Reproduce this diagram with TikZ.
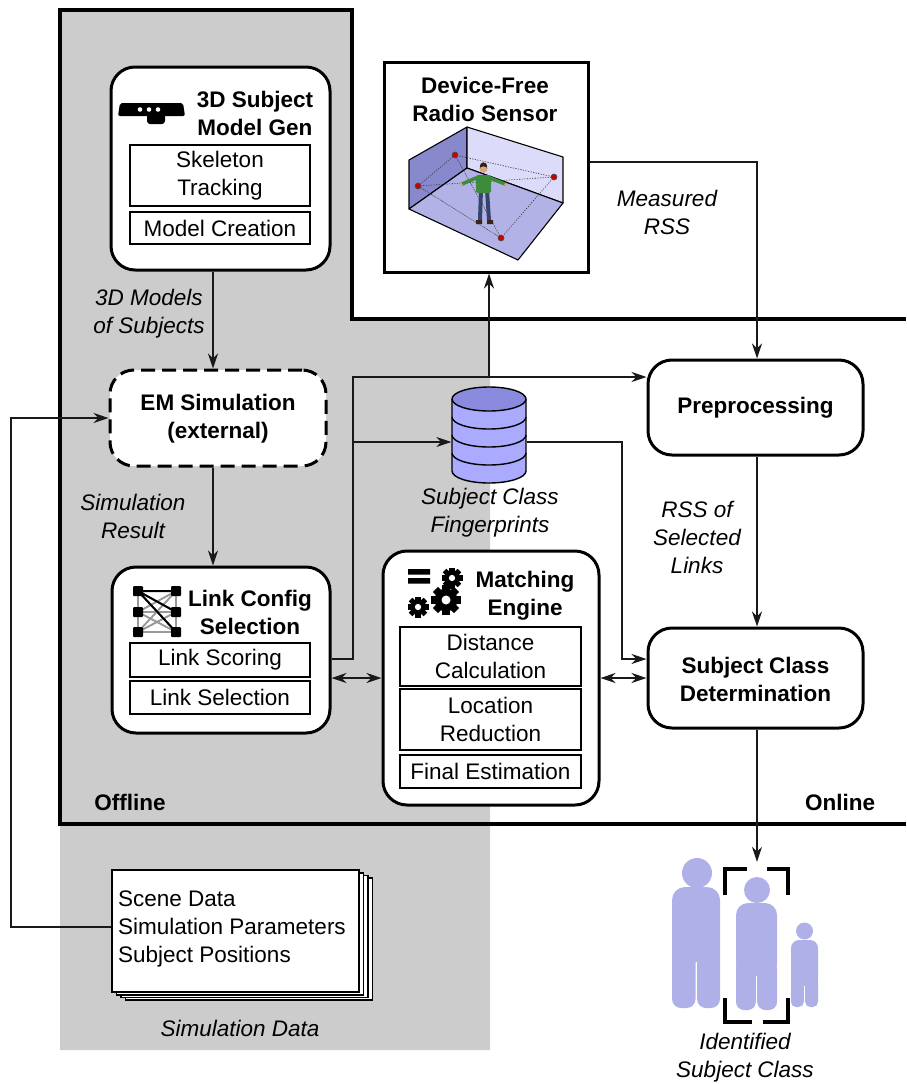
\documentclass[tikz,border=0pt]{standalone}
\usepackage{fontspec}
\setmainfont{Liberation Sans}
\usetikzlibrary{arrows.meta,calc}

\definecolor{offgray}{HTML}{CCCCCC}
\definecolor{dbtop}{HTML}{8A8ADE}
\definecolor{dbbody}{HTML}{AAAAFF}
\definecolor{wallL}{HTML}{8888CC}
\definecolor{wallR}{HTML}{DCDCFA}
\definecolor{floorC}{HTML}{B2B2E6}
\definecolor{person}{HTML}{B0B0E8}
\definecolor{shirt}{HTML}{3C8C3C}
\definecolor{jeans}{HTML}{34446A}
\definecolor{skin}{HTML}{D8A880}

% a black cog: centre x, centre y, outer radius, number of teeth
\newcommand{\mygear}[4]{%
  \begin{scope}[shift={(#1,#2)}]
    \fill[black] (0,0) circle[radius=#3*0.76pt];
    \foreach \k in {1,...,#4}{
      \fill[black, rotate=\k*360/#4] (-#3*0.24,0) rectangle (#3*0.24,#3);
    }
    \fill[white] (0,0) circle[radius=#3*0.3pt];
  \end{scope}}

\begin{document}
\begin{tikzpicture}[x=1pt,y=-1pt,
  txt/.style={font=\fontsize{22.5}{28}\selectfont, inner sep=0pt, align=center},
  ttl/.style={txt, font=\fontsize{22.5}{28}\selectfont\bfseries},
  lbl/.style={txt, font=\fontsize{22.5}{28}\selectfont\itshape},
  block/.style={draw, line width=3pt, rounded corners=24pt, fill=white, inner sep=0pt},
  sub/.style={txt, draw, line width=2.6pt, fill=white, minimum width=180pt},
  conn/.style={line width=1.3pt, draw=black!90},
  arr/.style={conn, -{Stealth[length=15pt,width=10pt]}},
  darr/.style={conn, {Stealth[length=15pt,width=10pt]}-{Stealth[length=15pt,width=10pt]}},
  frameline/.style={line width=3.5pt, line join=miter},
]
\useasboundingbox (0,0) rectangle (906,1084);

% offline region background
\fill[offgray] (60,10) -- (352,10) -- (352,319) -- (490,319) -- (490,1050) -- (60,1050) -- cycle;
% region frame
\draw[frameline] (906,319) -- (352,319) -- (352,10) -- (60,10) -- (60,824) -- (906,824);

% ---------- 3D subject model generation ----------
\node[block, minimum width=219pt, minimum height=203pt] (mgen) at (220.5,168.5) {};
\fill[rounded corners=2pt] (120,103) -- (183,103) -- (185,116) -- (118,116) -- cycle;
\fill[rounded corners=3pt] (147,113) rectangle (165,124);
\fill[white] (140,109.5) circle[radius=2.3pt] (149,109.5) circle[radius=2.3pt] (158,109.5) circle[radius=2.3pt];
\node[ttl] (mgenT) at (255,113) {3D Subject\\Model Gen};
\node[sub, minimum height=61pt] (skel) at (220,175.5) {Skeleton\\Tracking};
\node[sub, minimum height=32pt] (mcre) at (220,228) {Model Creation};

% ---------- EM simulation ----------
\node[block, dash pattern=on 14pt off 7pt, minimum width=216pt, minimum height=96pt] (em) at (218,418) {};
\node[ttl] (emT) at (218,419) {EM Simulation\\(external)};

% ---------- link configuration selection ----------
\node[block, minimum width=218pt, minimum height=166pt] (lcs) at (221,650) {};
\foreach \a/\b in {138/591, 176/591, 138/612, 176/612, 138/632, 176/632}{
  \foreach \c/\d in {138/591, 176/591, 138/612, 176/612, 138/632, 176/632}{
    \draw[line width=1.6pt, black!40] (\a,\b) -- (\c,\d);
  }
}
\draw[line width=2pt] (138,591) -- (176,591) (138,591) -- (176,612) (138,591) -- (176,632);
\foreach \a/\b in {138/591, 176/591, 138/612, 176/612, 138/632, 176/632}{
  \fill[rounded corners=1pt] (\a-5,\b-5) rectangle (\a+5,\b+5);
}
\node[ttl] (lcsT) at (250,612) {Link Config\\Selection};
\node[sub, minimum height=34pt] (lsco) at (220,660) {Link Scoring};
\node[sub, minimum height=33pt] (lsel) at (220,697.5) {Link Selection};

% ---------- matching engine ----------
\node[block, minimum width=216pt, minimum height=254pt] (me) at (491,678) {};
\fill (408,569) rectangle (430,574.5) (408,578) rectangle (430,583.5);
\mygear{452}{578}{10.5}{8}
\mygear{418}{607}{10.5}{8}
\mygear{446}{600}{15}{8}
\node[ttl] (meT) at (525,596) {Matching\\Engine};
\node[sub, minimum width=181pt, minimum height=59pt] (dist) at (490.5,656.5) {Distance\\Calculation};
\node[sub, minimum width=181pt, minimum height=61pt] (locr) at (490.5,719.5) {Location\\Reduction};
\node[sub, minimum width=181pt, minimum height=33pt] (fest) at (490.5,771.5) {Final Estimation};

% ---------- device-free radio sensor ----------
\node[draw, line width=3pt, fill=white, minimum width=204pt, minimum height=210pt] (radio) at (486,167) {};
\node[ttl] (radioT) at (485,99) {Device-Free\\Radio Sensor};
\begin{scope}[line width=1.1pt, line join=round]
  \filldraw[fill=wallL] (409,160) -- (467,127) -- (467,168) -- (409,209) -- cycle;
  \filldraw[fill=wallR] (467,127) -- (563,157) -- (563,203) -- (467,168) -- cycle;
  \filldraw[fill=floorC] (409,209) -- (467,168) -- (563,203) -- (518,260) -- cycle;
\end{scope}
\foreach \p/\q in {455/155, 418/186, 554/177, 501/238}{
  \foreach \r/\s in {455/155, 418/186, 554/177, 501/238}{
    \draw[line width=0.6pt, dotted, black!80] (\p,\q) -- (\r,\s);
  }
}
% person standing in the room
\draw[jeans, line width=4pt, line cap=round] (481,190) -- (480,220) (487,190) -- (489,220);
\fill[black!70!brown] (476,220) rectangle (482,224) (487,220) rectangle (493,224);
\draw[shirt, line width=3.5pt, line cap=round] (462,184) -- (476,178) -- (490,178) -- (505,184);
\fill[shirt, rounded corners=2pt] (476,175) rectangle (491,193);
\fill[skin] (461,184.5) circle[radius=1.8pt] (506,184.5) circle[radius=1.8pt];
\fill[skin] (483.5,168.5) circle[radius=4.2pt];
\fill[black!75!brown] (483.5,166) circle[radius=3.6pt];
\fill[skin] (483.5,169.5) circle[radius=3.2pt];
\foreach \p/\q in {455/155, 418/186, 554/177, 501/238}{
  \filldraw[fill=red!80!black, draw=black!70, line width=0.6pt] (\p,\q) circle[radius=3pt];
}

% ---------- database ----------
\node[minimum width=75pt, minimum height=96pt, inner sep=0pt] (db) at (489,435) {};
\fill[dbbody] (452,399) -- (452,471) arc[start angle=180, end angle=360, x radius=37pt, y radius=12pt] -- (526,399) -- cycle;
\draw[line width=1.4pt] (452,399) -- (452,471) arc[start angle=180, end angle=360, x radius=37pt, y radius=12pt] -- (526,399);
\foreach \yy in {417,435,453}{
  \draw[line width=1.4pt] (452,\yy) arc[start angle=180, end angle=360, x radius=37pt, y radius=12pt];
}
\filldraw[fill=dbtop, line width=1.4pt] (489,399) ellipse[x radius=37pt, y radius=12pt];
\node[lbl] (dbL) at (490,513) {Subject Class\\Fingerprints};

% ---------- online blocks ----------
\node[block, minimum width=215pt, minimum height=95pt] (pre) at (755.5,407.5) {};
\node[ttl] (preT) at (755.5,408) {Preprocessing};
\node[block, minimum width=215pt, minimum height=100pt] (scd) at (755.5,678) {};
\node[ttl] (scdT) at (755.5,679) {Subject Class\\Determination};

% ---------- simulation data stack ----------
\foreach \k in {3,2,1}{
  \filldraw[fill=white, line width=1.8pt] (112+4.5*\k,870+2.7*\k) rectangle (359+4.5*\k,992+2.7*\k);
}
\node[draw, line width=1.8pt, fill=white, minimum width=247pt, minimum height=122pt, inner sep=0pt] (sim) at (235.5,931) {};
\node[txt, align=left, anchor=west] (simT) at (118,929) {Scene Data\\Simulation Parameters\\Subject Positions};
\node[lbl] (simL) at (240,1028) {Simulation Data};

% ---------- identified subject class ----------
\node[minimum width=150pt, minimum height=148pt, inner sep=0pt] (people) at (745,936) {};
\begin{scope}[person]
  \fill (697,873) circle[radius=15pt];
  \fill[rounded corners=13pt] (672,887) rectangle (720,962);
  \fill[rounded corners=9pt] (672,940) rectangle (695.5,1008);
  \fill[rounded corners=9pt] (697,940) rectangle (720,1008);
  \fill (757,890) circle[radius=13pt];
  \fill[rounded corners=12pt] (736,903) rectangle (777,976);
  \fill[rounded corners=8pt] (736,960) rectangle (755.8,1010);
  \fill[rounded corners=8pt] (757.2,960) rectangle (777,1010);
  \fill (804.5,931) circle[radius=8.5pt];
  \fill[rounded corners=8pt] (791,940) rectangle (818,986);
  \fill[rounded corners=5pt] (791,975) rectangle (803.8,1007);
  \fill[rounded corners=5pt] (805.2,975) rectangle (818,1007);
\end{scope}
\draw[line width=4pt] (725,895) -- (725,869) -- (747,869)
  (767,869) -- (788,869) -- (788,895)
  (725,998) -- (725,1022) -- (752,1022)
  (763,1022) -- (788,1022) -- (788,998);
\node[lbl] (peopleL) at (745,1058) {Identified\\Subject Class};

% ---------- edge labels and region names ----------
\node[lbl] (l3d) at (149,314) {3D Models\\of Subjects};
\node[lbl] (lsr) at (133,516) {Simulation\\Result};
\node[lbl] (lmr) at (667,212) {Measured\\RSS};
\node[lbl] (lrs) at (697,537) {RSS of\\Selected\\Links};
\node[ttl] (offl) at (130,802) {Offline};
\node[ttl] (onl) at (840,802) {Online};

% ---------- connectors ----------
\coordinate (cx) at (213,0);
\coordinate (jA) at (353,659);
\coordinate (jB) at (353,377);
\coordinate (jC) at (353,442);
\coordinate (jD) at (489,377);
\coordinate (jE) at (622,442);
\coordinate (jF) at (622,659);
\coordinate (jG) at (757,162);
\coordinate (jL1) at (11,927);
\coordinate (jL2) at (11,418);

\draw[arr] (mgen.south -| cx) -- (em.north -| cx);
\draw[arr] (em.south -| cx) -- (lcs.north -| cx);
\draw[arr] (sim.west |- jL1) -- (jL1) -- (jL2) -- (em.west |- jL2);
\draw[arr] (lcs.east |- jA) -- (jA) -- (jB) -- (pre.west |- jB);
\draw[arr] (jC) -- (db.west |- jC);
\draw[arr] (jD) -- (radio.south -| jD);
\draw[arr] (db.east |- jE) -- (jE) -- (jF) -- (scd.west |- jF);
\draw[arr] (radio.east |- jG) -- (jG) -- (jG |- pre.north);
\draw[arr] (jG |- pre.south) -- (jG |- scd.north);
\draw[arr] (jG |- scd.south) -- (jG |- people.north);
\draw[darr] (lcs.east |- me.west) -- (me.west);
\draw[darr] (me.east) -- (scd.west);
\end{tikzpicture}
\end{document}
